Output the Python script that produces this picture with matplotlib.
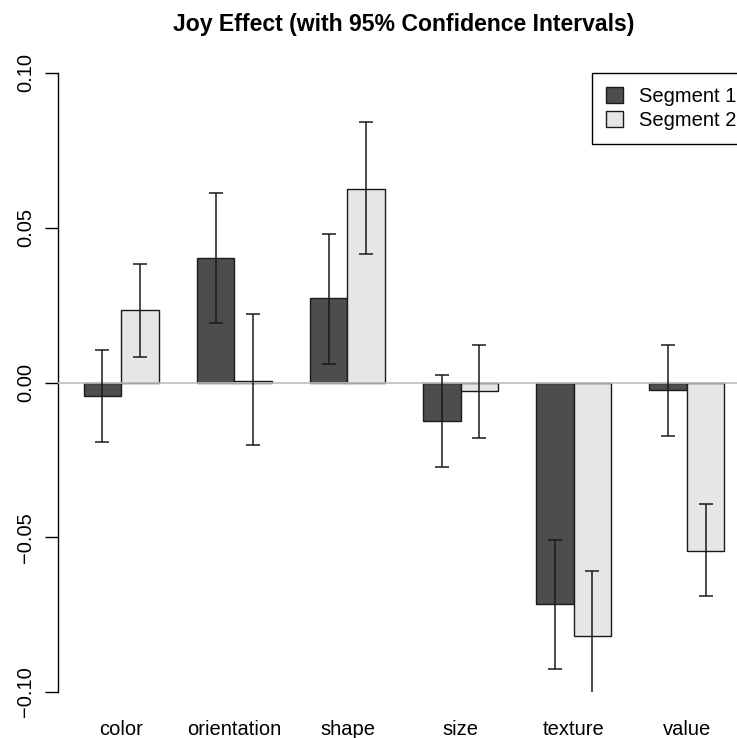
import numpy as np
import matplotlib.pyplot as plt

# values
categories = ['color', 'orientation', 'shape', 'size', 'texture', 'value']
seg1_est = [-0.0043, 0.0402, 0.0272, -0.0125, -0.0717, -0.0025]
seg1_lo = [-0.0191, 0.0192, 0.0060, -0.0272, -0.0927, -0.0174]
seg1_hi = [0.0105, 0.0612, 0.0481, 0.0023, -0.0508, 0.0122]
seg2_est = [0.0233, 0.0006, 0.0624, -0.0029, -0.0820, -0.0543]
seg2_lo = [0.0081, -0.0203, 0.0414, -0.0178, -0.1020, -0.0691]
seg2_hi = [0.0382, 0.0221, 0.0842, 0.0122, -0.0610, -0.0394]
series_names = ['Segment 1', 'Segment 2']
y_ticks = [-0.10, -0.05, 0.00, 0.05, 0.10]

plt.rcParams['font.family'] = ['Liberation Sans', 'DejaVu Sans']

fig = plt.figure(figsize=(7.37, 7.38), dpi=100)
ax = fig.add_axes([58 / 737, 1 - 692 / 738, (750 - 58) / 737, (692 - 73) / 738])

# R barplot(beside=TRUE) layout: space 1 before each group, bars width 1
n = len(categories)
left1 = np.arange(n) * 3 + 1
x1 = left1 + 0.5
x2 = left1 + 1.5
centers = left1 + 1.0

c1, c2 = '#4d4d4d', '#e6e6e6'
ax.bar(x1, seg1_est, width=1, color=c1, edgecolor='#1a1a1a', linewidth=1, zorder=2, label=series_names[0])
ax.bar(x2, seg2_est, width=1, color=c2, edgecolor='#1a1a1a', linewidth=1, zorder=2, label=series_names[1])

ax.axhline(0, color='#bebebe', linewidth=1.2, zorder=3)

for xs, est, lo, hi in [(x1, seg1_est, seg1_lo, seg1_hi), (x2, seg2_est, seg2_lo, seg2_hi)]:
    est = np.array(est)
    yerr = [est - np.array(lo), np.array(hi) - est]
    ax.errorbar(xs, est, yerr=yerr, fmt='none', ecolor='#1a1a1a', elinewidth=1.1,
                capsize=4.7, capthick=1.1, zorder=4)

ax.set_xlim(0.32, 18.68)
ax.set_ylim(-0.10, 0.10)

for s in ['top', 'right', 'bottom']:
    ax.spines[s].set_visible(False)
ax.spines['left'].set_bounds(-0.10, 0.10)
ax.spines['left'].set_linewidth(1)

ax.set_yticks(y_ticks)
ax.set_yticklabels([f'{v:.2f}'.replace('-', '\u2212') for v in y_ticks], rotation=90, va='center')
ax.tick_params(axis='y', length=9.4, width=1, pad=7, labelsize=14.5)

ax.set_xticks(centers)
ax.set_xticklabels(categories)
ax.tick_params(axis='x', length=0, pad=20, labelsize=14.5)

ax.set_title('Joy Effect (with 95% Confidence Intervals)', fontsize=16.6, fontweight='bold', pad=30)

leg = ax.legend(loc='upper right', bbox_to_anchor=(1, 1), borderaxespad=0, fontsize=14.5,
                fancybox=False, edgecolor='black', framealpha=1, handlelength=0.85,
                handleheight=0.85, handletextpad=0.75, labelspacing=0.25, borderpad=0.7)
leg.get_frame().set_linewidth(1)

fig.savefig('out.png', dpi=100)
